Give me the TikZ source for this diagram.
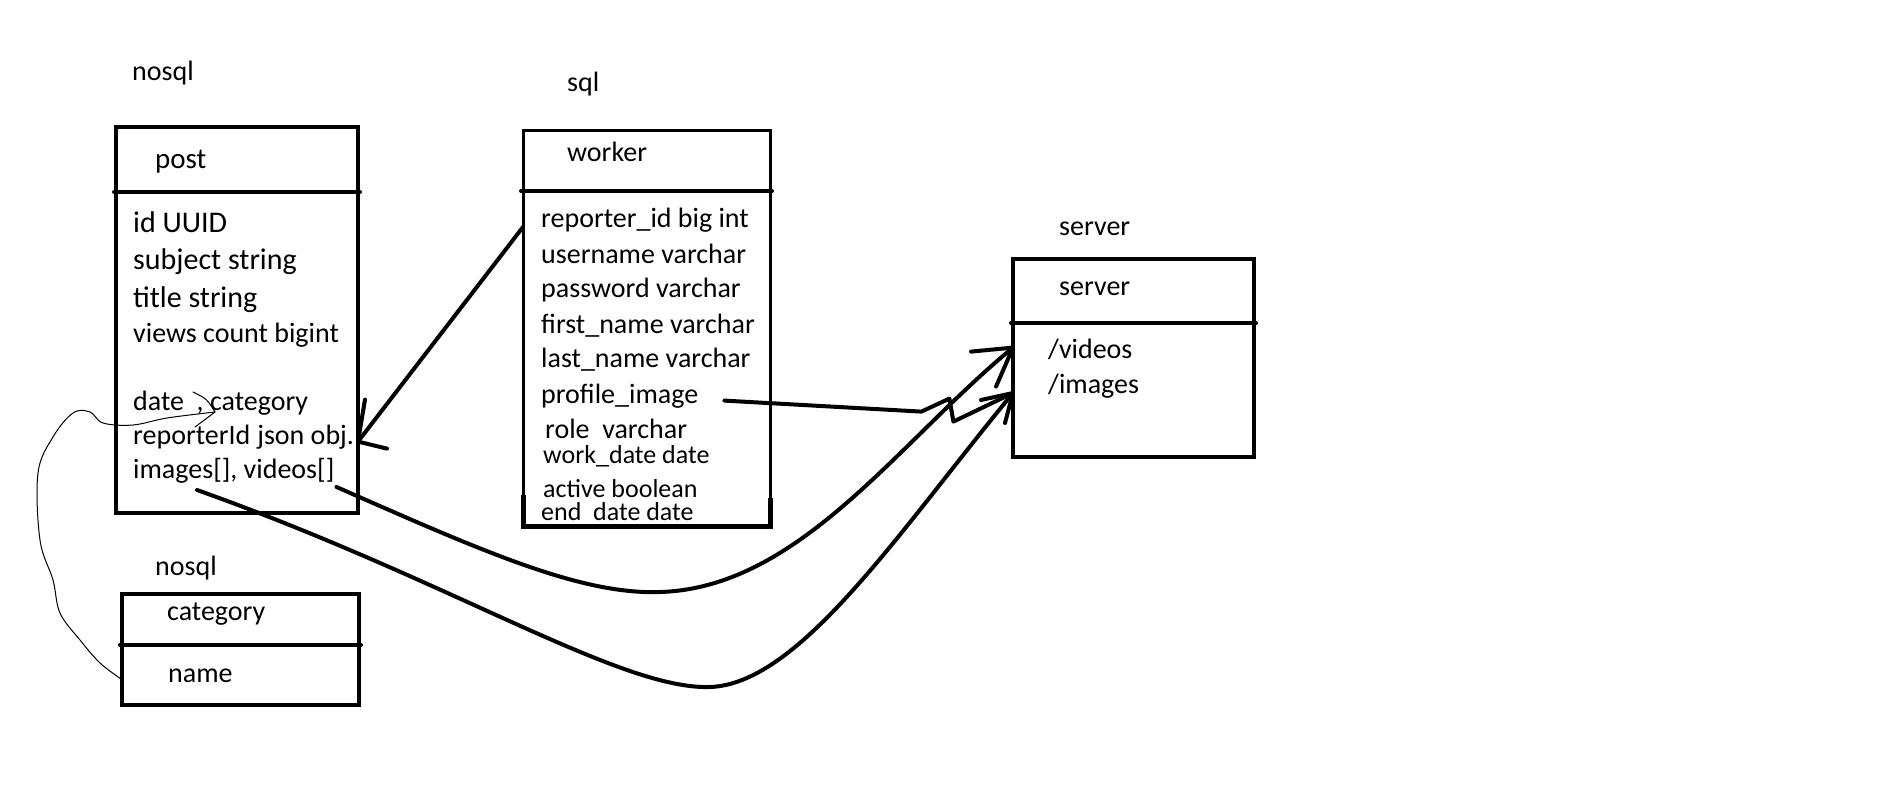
\documentclass[tikz,border=0pt]{standalone}
\usepackage{fontspec}
\setmainfont{Carlito}
\usetikzlibrary{calc}
\begin{document}
\begin{tikzpicture}[x=1pt,y=-1pt,
  tbl/.style={draw,line width=4pt,inner sep=0pt,outer sep=0pt,anchor=north west},
  lbl/.style={anchor=base west,inner sep=0pt,font=\fontsize{28}{34}\selectfont},
  lblbig/.style={lbl,font=\fontsize{30}{36}\selectfont},
  lblsm/.style={lbl,font=\fontsize{26}{31}\selectfont},
  link/.style={draw,line width=4pt,line cap=round,line join=round},
  hand/.style={draw,line width=1pt,line cap=round}]
\useasboundingbox (0,0) rectangle (1883,797);

% tables
\node[tbl,minimum width=242pt,minimum height=386pt] (post) at (116,127) {};
\node[tbl,line width=3pt,minimum width=247pt,minimum height=395pt] (worker) at (523,131) {};
\node[tbl,line width=4.5pt,minimum width=241pt,minimum height=198pt] (server) at (1013,259) {};
\node[tbl,minimum width=237pt,minimum height=111pt] (cat) at (122,594) {};
\foreach \b/\d in {post/65,worker/60,server/64,cat/51}
  \path[draw,line width=4pt,line cap=round] ([xshift=-2pt,yshift=-\d pt]\b.north west) -- ([xshift=2pt,yshift=-\d pt]\b.north east);
\path[draw,line width=5pt] ([yshift=31pt]worker.south west) -- (worker.south west) -- (worker.south east) -- ([yshift=28pt]worker.south east);

% headings
\node[lbl] (nosqlA) at (132,81) {nosql};
\node[lbl] (sqlA) at (567,92) {sql};
\node[lbl] (serverA) at (1059,235) {server};
\node[lbl] (nosqlB) at (155,575) {nosql};
\node[lbl,font=\fontsize{29}{35}\selectfont] (postT) at (155,168) {post};
\node[lbl] (workerT) at (567,161) {worker};
\node[lbl] (serverT) at (1059,295) {server};
\node[lbl] (catT) at (167,620) {category};

% fields
\foreach \y/\t [count=\i] in {232/id UUID, 269/subject string, 307/title string}
  \node[lblbig] (p\i) at (133,\y) {\t};
\foreach \y/\t [count=\i from 4] in {342/views count bigint, 410/{date\ \ , category},
  444/reporterId\hspace{7pt}json obj., 478/{images[], videos[]}}
  \node[lbl] (p\i) at (133,\y) {\t};
\foreach \x/\y/\t [count=\i] in {541/227/reporter\_id big int, 541/263/username varchar,
  541/297/password varchar, 541/333/first\_name varchar, 541/367/last\_name varchar,
  541/403/profile\_image, 545/438/role\ \ varchar}
  \node[lbl] (w\i) at (\x,\y) {\t};
\node[lblsm] (w8) at (543,463) {work\_date date};
\node[lblsm] (w9) at (543,497) {active boolean};
\node[lblsm] (w10) at (541,520) {end\ \ date date};
\node[lbl] (s1) at (1048,358) {/videos};
\node[lbl] (s2) at (1048,393) {/images};
\node[lbl] (c1) at (168,682) {name};

% links
\coordinate (tipA) at (post.east |- p6.mid);
\coordinate (tipB) at ($(server.west |- s1.mid)+(0,-8)$);
\coordinate (tipC) at (server.west |- s2.base);
\coordinate (tipD) at ([shift={(82,2)}]p5.base west);

\path[link] (worker.west |- w1.base) -- (tipA);
\path[link] (tipA) -- ++(7,-42);
\path[link] (tipA) -- ++(29,7);

\path[link] ([xshift=26pt]w6.mid east) -- ++(197,11) -- ++(28,-13) -- ++(4,23) -- (tipC);
\path[link] (tipC) -- ++(-32,7);
\path[link] (tipC) -- ++(-8,30);

\path[link] ([shift={(2,9)}]p7.base east) .. controls (480,550) and (580,595) .. (660,592)
  .. controls (800,588) and (900,440) .. (tipB);
\path[link] (tipB) -- ++(-42,4);
\path[link] (tipB) -- ++(-17,39);

\path[link] ([shift={(64,12)}]p7.base west) .. controls (450,580) and (620,690) .. (710,687)
  .. controls (800,684) and (900,530) .. (tipC);

\path[hand] plot[smooth,tension=0.6] coordinates {(cat.west |- c1.mid) (100,663) (80,640) (60,613)
  (53,580) (40,540) (38,473) (53,437) (73,413) (90,412) (103,423) (133,425) (167,418) (tipD)};
\path[hand] ([shift={(-22,-20)}]tipD) .. controls ([shift={(-8,-13)}]tipD) .. (tipD)
  .. controls ([shift={(-8,6)}]tipD) .. ([shift={(-20,15)}]tipD);
\end{tikzpicture}
\end{document}
